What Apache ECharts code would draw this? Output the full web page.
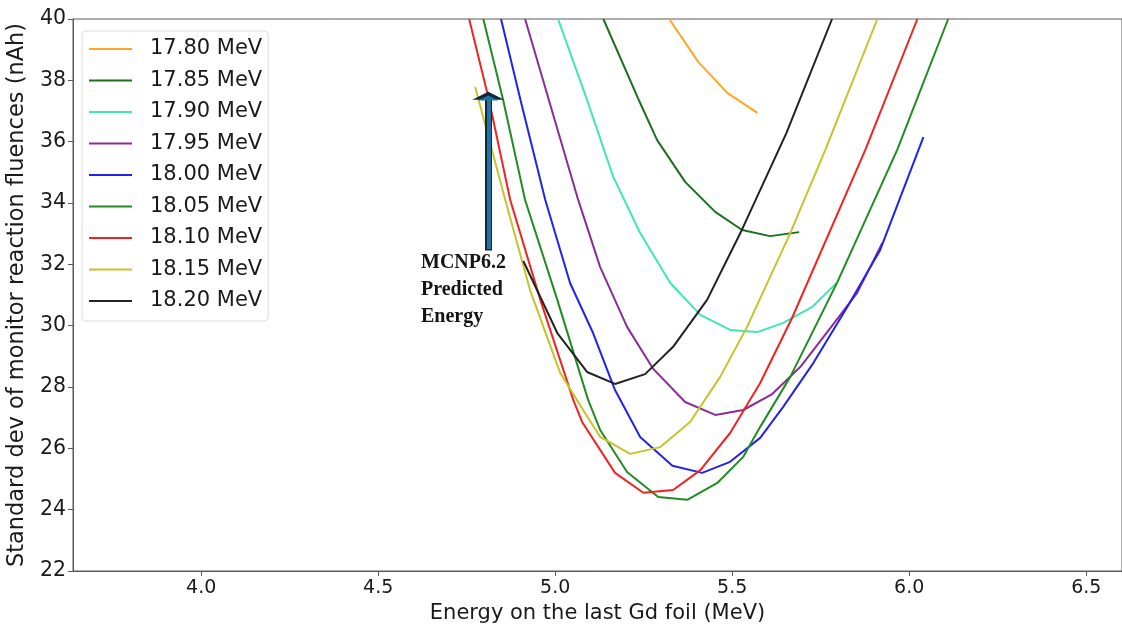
<!DOCTYPE html>
<html>
<head>
<meta charset="utf-8">
<script src="https://cdn.jsdelivr.net/npm/echarts@6/dist/echarts.min.js"></script>
<style>
  html, body { margin: 0; padding: 0; background: #fff; }
  #chart { width: 1122px; height: 624px; }
</style>
</head>
<body>
<div id="chart"></div>
<script>
// Beam energies (legend) and their curves: [energy on last Gd foil (MeV), std dev (nAh)]
const beamLabels = ['17.80 MeV', '17.85 MeV', '17.90 MeV', '17.95 MeV', '18.00 MeV',
                    '18.05 MeV', '18.10 MeV', '18.15 MeV', '18.20 MeV'];

const curve1780 = [[5.322, 40.0], [5.404, 38.60], [5.486, 37.59], [5.571, 36.94]];
const curve1785 = [[5.136, 40.0], [5.240, 37.26], [5.288, 36.05], [5.367, 34.69], [5.452, 33.71],
                   [5.528, 33.12], [5.607, 32.92], [5.689, 33.05]];
const curve1790 = [[5.008, 40.0], [5.090, 37.36], [5.164, 34.85], [5.240, 33.02], [5.325, 31.39],
                   [5.410, 30.35], [5.494, 29.86], [5.571, 29.79], [5.644, 30.09], [5.726, 30.61],
                   [5.797, 31.42]];
const curve1795 = [[4.915, 40.0], [5.065, 34.10], [5.127, 31.91], [5.203, 29.96], [5.277, 28.59],
                   [5.367, 27.51], [5.452, 27.09], [5.531, 27.25], [5.613, 27.77], [5.692, 28.65],
                   [5.777, 29.92], [5.853, 31.07], [5.924, 32.70]];
const curve1800 = [[4.847, 40.0], [4.902, 37.36], [4.972, 34.10], [5.042, 31.39], [5.107, 29.76],
                   [5.169, 27.90], [5.240, 26.37], [5.331, 25.43], [5.415, 25.20], [5.494, 25.56],
                   [5.579, 26.34], [5.644, 27.35], [5.729, 28.78], [5.825, 30.61], [5.918, 32.47],
                   [6.040, 36.15]];
const curve1805 = [[4.797, 40.0], [4.853, 37.36], [4.915, 34.10], [5.006, 30.84], [5.093, 27.58],
                   [5.127, 26.60], [5.203, 25.23], [5.291, 24.41], [5.373, 24.32], [5.458, 24.87],
                   [5.531, 25.72], [5.579, 26.70], [5.664, 28.33], [5.797, 31.42], [5.966, 35.73],
                   [6.110, 40.0]];
const curve1810 = [[4.757, 40.0], [4.813, 37.36], [4.873, 34.10], [4.958, 30.84], [5.051, 27.58],
                   [5.076, 26.86], [5.169, 25.20], [5.249, 24.55], [5.333, 24.64], [5.410, 25.29],
                   [5.494, 26.50], [5.579, 28.13], [5.669, 30.25], [5.876, 35.73], [6.023, 40.0]];
const curve1815 = [[4.774, 37.78], [4.859, 34.10], [4.929, 31.16], [5.014, 28.46], [5.079, 27.25],
                   [5.127, 26.37], [5.212, 25.82], [5.297, 26.04], [5.381, 26.86], [5.466, 28.33],
                   [5.542, 29.96], [5.664, 33.02], [5.763, 35.73], [5.910, 40.0]];
const curve1820 = [[4.910, 32.11], [5.006, 29.76], [5.090, 28.49], [5.169, 28.10], [5.254, 28.42],
                   [5.333, 29.31], [5.429, 30.84], [5.523, 33.02], [5.653, 36.28], [5.782, 40.0]];

const curves = [curve1780, curve1785, curve1790, curve1795, curve1800,
                curve1805, curve1810, curve1815, curve1820];
const lineColors = ['#ffa526', '#1f6e1f', '#3ee8b0', '#8b2c99', '#2222f0',
                    '#228b22', '#f22222', '#c4c42c', '#222222'];

// Axis ticks
const xTicks = [4.0, 4.5, 5.0, 5.5, 6.0, 6.5];
const xRange = [3.638, 6.601];
const yRange = [22, 40];

// MCNP6.2 predicted energy arrow: [energy, tail value, head value]
const predictedEnergy = 4.811;
const arrowSpan = [32.45, 37.50];

const chart = echarts.init(document.getElementById('chart'), null, { renderer: 'canvas' });

const series = curves.map((c, i) => ({
  name: beamLabels[i],
  type: 'line',
  data: c,
  symbol: 'none',
  smooth: false,
  clip: true,
  lineStyle: { color: lineColors[i], width: 2 },
  itemStyle: { color: lineColors[i] },
  z: 3
}));

series.push({
  name: 'arrow',
  type: 'line',
  data: [],
  silent: true,
  markLine: {
    silent: true,
    animation: false,
    label: { show: false },
    emphasis: { disabled: true },
    data: [
      [
        { coord: [predictedEnergy, arrowSpan[0]], symbol: 'none',
          lineStyle: { color: '#0d2a3a', width: 7, type: 'solid' } },
        { coord: [predictedEnergy, arrowSpan[1]], symbol: 'triangle', symbolSize: [32, 8],
          itemStyle: { color: '#0d2a3a' } }
      ],
      [
        { coord: [predictedEnergy, arrowSpan[0] + 0.05], symbol: 'none',
          lineStyle: { color: '#2272a6', width: 4, type: 'solid' } },
        { coord: [predictedEnergy, arrowSpan[1] - 0.08], symbol: 'triangle', symbolSize: [20, 5],
          itemStyle: { color: '#2272a6' } }
      ]
    ]
  },
  z: 5
});

chart.setOption({
  animation: false,
  backgroundColor: '#ffffff',
  grid: {
    left: 73, right: 0, top: 19, bottom: 53,
    outerBoundsMode: 'none',
    containLabel: false,
    show: true, borderColor: '#5a5a5a', borderWidth: 1, backgroundColor: 'transparent'
  },
  legend: {
    data: beamLabels,
    orient: 'vertical',
    left: 82,
    top: 31,
    padding: [7, 6, 9, 7],
    icon: 'rect',
    itemWidth: 43,
    itemHeight: 2,
    itemGap: 9.5,
    backgroundColor: '#ffffff',
    borderColor: '#dcdcdc',
    borderWidth: 1,
    borderRadius: 4,
    textStyle: {
      fontFamily: 'DejaVu Sans',
      fontSize: 21,
      lineHeight: 22,
      color: '#1a1a1a',
      padding: [0, 0, 0, 13]
    }
  },
  xAxis: {
    type: 'value',
    min: xRange[0],
    max: xRange[1],
    name: 'Energy on the last Gd foil (MeV)',
    nameLocation: 'middle',
    nameGap: 31,
    nameTextStyle: { fontFamily: 'DejaVu Sans', fontSize: 21, color: '#1a1a1a' },
    axisLine: { show: true, lineStyle: { color: '#5a5a5a', width: 1 } },
    axisTick: { show: true, customValues: xTicks, length: 5, lineStyle: { color: '#5a5a5a' } },
    axisLabel: {
      customValues: xTicks,
      formatter: v => v.toFixed(1),
      fontFamily: 'DejaVu Sans',
      fontSize: 19,
      color: '#1a1a1a',
      margin: 8
    },
    splitLine: { show: false }
  },
  yAxis: {
    type: 'value',
    min: yRange[0],
    max: yRange[1],
    interval: 2,
    name: 'Standard dev of monitor reaction fluences (nAh)',
    nameLocation: 'middle',
    nameGap: 40,
    nameRotate: 90,
    nameTextStyle: { fontFamily: 'DejaVu Sans', fontSize: 22.5, color: '#1a1a1a' },
    axisLine: { show: true, lineStyle: { color: '#5a5a5a', width: 1 } },
    axisTick: { show: true, length: 5, lineStyle: { color: '#5a5a5a' } },
    axisLabel: {
      fontFamily: 'DejaVu Sans',
      fontSize: 20.5,
      color: '#1a1a1a',
      margin: 7
    },
    splitLine: { show: false }
  },
  graphic: [
    {
      type: 'text',
      left: 421,
      top: 249,
      z: 10,
      style: {
        text: 'MCNP6.2\nPredicted\nEnergy',
        font: 'bold 20px "Liberation Serif", "DejaVu Serif", serif',
        lineHeight: 27,
        fill: '#141414'
      }
    }
  ],
  series: series
});
</script>
</body>
</html>
